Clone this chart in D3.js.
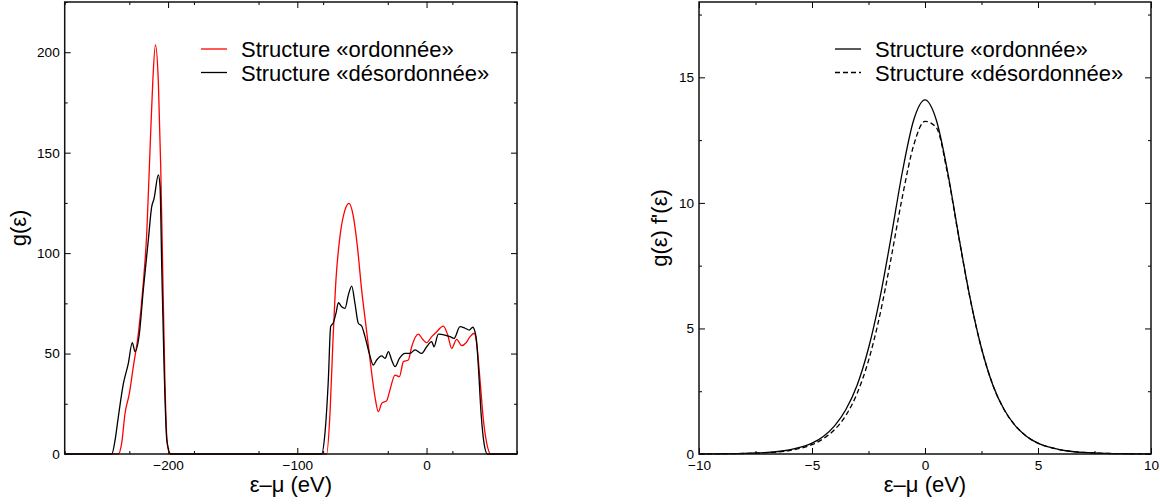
<!DOCTYPE html>
<html><head><meta charset="utf-8">
<script src="https://cdn.jsdelivr.net/npm/d3@7"></script>
<style>
body{margin:0;background:#fff;}
svg{display:block;font-family:"Liberation Sans",Arial,Helvetica,sans-serif;}
</style></head>
<body><svg id="c" width="1160" height="504"></svg>
<script>
// ---- Left panel: density of states g(ε) ----
const ordE = [-280,-240,-238.5,-235.9,-233.3,-230,-226.9,-223,-219.2,-216.5,-214,-211.9,-209.8,-207.5,-205.7,-204.2,-202.4,-200.6,-198.5,-80,-77.3,-74.7,-72.6,-70.1,-67,-63.1,-60,-56.6,-53.5,-50.2,-46.8,-43.7,-39.9,-37.3,-34.7,-30.8,-28.3,-24.4,-21.0,-17.9,-14.1,-11.5,-6.3,-3.0,0.1,4.0,7.9,13.0,16.4,19.5,23.3,27.2,30.6,33.7,36.8,38.8,41.4,44.0,46.6,49.7,70];
const ordG = [0,0,0,5.4,20.3,30,43.5,60,85,110,151,184.5,203.6,184.5,143,93,35,5,0,0,0,20.3,53.4,86.6,108.2,121.5,124.8,118.2,103.2,81.6,63.4,46.8,28.5,21.1,25.2,26.6,31.9,39.3,38.5,46,46.8,53.4,59.7,57.1,55.4,58.4,60.9,63.7,59.2,52.6,57.1,53.9,55.4,58.4,60.1,55.1,36.8,16.9,5.3,0,0];
const disE = [-280,-245,-243.6,-241,-238.5,-234.6,-230.8,-227.7,-225.6,-222.2,-219.2,-215.3,-212.7,-210.9,-207.5,-206.2,-204.9,-203.1,-201,-198,-83,-81.2,-78.6,-76,-74.2,-72.1,-70.1,-68.2,-65.7,-63.1,-60.5,-57.9,-55.4,-52.8,-50.2,-47.6,-44.3,-41.2,-38.6,-34.7,-32.1,-29.5,-27,-24.4,-21,-16.6,-12.8,-8.9,-3.7,0.1,4.0,5.8,9.1,14.3,18.2,21.3,25.9,29.8,33.1,35.7,38.3,40.1,42.2,44.5,47.1,70];
const disG = [0,0,0,7,18.5,35,45,55.4,51,60,81.6,106.5,123,127,138.9,133,93,43.5,7,0,0,0,10.3,36.8,63.4,65.4,70,75.3,73.3,72.5,79.2,83.6,75,65.1,63.7,58.4,50.1,44.3,46.8,48.8,47.6,51,46.8,43.5,47.6,50.1,50.1,51.8,50.1,53.4,55.9,53.4,59.7,59.2,58.4,57.6,63.4,62.6,61.7,63.1,58.4,43.5,20.3,5.3,0,0];
const leftXTicks = [-200,-100,0];
const leftYTicks = [0,50,100,150,200];

// ---- Right panel: g(ε) f'(ε) ----
const rE = [-10,-9.5,-9,-8.5,-8,-7.5,-7,-6.5,-6,-5.5,-5,-4.5,-4,-3.5,-3,-2.5,-2,-1.5,-1,-0.5,0,0.5,1,1.5,2,2.5,3,3.5,4,4.5,5,5.5,6,6.5,7,7.5,8,8.5,9,9.5,10];
const rOrd = [0.003,0.005,0.009,0.015,0.024,0.039,0.063,0.10,0.166,0.27,0.43,0.70,1.12,1.77,2.75,4.21,6.19,8.64,11.24,13.3,14.1,13.3,11.24,8.64,6.19,4.21,2.75,1.77,1.12,0.70,0.43,0.27,0.166,0.10,0.063,0.039,0.024,0.015,0.009,0.005,0.003];
const rDis = [0.002,0.004,0.007,0.012,0.02,0.032,0.052,0.085,0.14,0.23,0.37,0.61,0.97,1.54,2.42,3.72,5.52,7.8,10.25,12.3,13.25,13.0,11.15,8.6,6.17,4.2,2.75,1.77,1.12,0.70,0.43,0.27,0.166,0.10,0.063,0.039,0.024,0.015,0.009,0.005,0.003];
const rightXTicks = [-10,-5,0,5,10];
const rightYTicks = [0,5,10,15];

const legendLabels = ["Structure «ordonnée»","Structure «désordonnée»"];
const xTitle = "ε–μ (eV)";
const yTitleLeft = "g(ε)";
const yTitleRight = "g(ε) f'(ε)";

const svg = d3.select("#c");

function panel(opt){
  const g = svg.append("g");
  const x = d3.scaleLinear().domain(opt.xd).range([opt.x0,opt.x1]);
  const y = d3.scaleLinear().domain(opt.yd).range([opt.y1,opt.y0]);
  const style = sel => { sel.select(".domain").remove(); sel.selectAll("line").attr("stroke","#000").attr("stroke-width",1);
    sel.selectAll("text").attr("fill","#000").style("font-size","13.6px").style("font-family","'Liberation Sans',Arial,sans-serif"); };
  // minor ticks
  const mx = d3.range(opt.xd[0],opt.xd[1]+1e-9,opt.xMinor).filter(v=>!opt.xt.some(t=>Math.abs(t-v)<1e-9));
  const my = d3.range(opt.yd[0],opt.yd[1]+1e-9,opt.yMinor).filter(v=>!opt.yt.some(t=>Math.abs(t-v)<1e-9));
  g.append("g").attr("transform",`translate(0,${opt.y1})`).call(d3.axisBottom(x).tickValues(opt.xt).tickSizeInner(-6).tickSizeOuter(0).tickPadding(6)).call(style);
  g.append("g").attr("transform",`translate(0,${opt.y1})`).call(d3.axisBottom(x).tickValues(mx).tickSizeInner(-3).tickSizeOuter(0).tickFormat("")).call(style);
  g.append("g").attr("transform",`translate(0,${opt.y0})`).call(d3.axisTop(x).tickValues(opt.xt).tickSizeInner(-6).tickSizeOuter(0).tickFormat("")).call(style);
  g.append("g").attr("transform",`translate(0,${opt.y0})`).call(d3.axisTop(x).tickValues(mx).tickSizeInner(-3).tickSizeOuter(0).tickFormat("")).call(style);
  g.append("g").attr("transform",`translate(${opt.x0},0)`).call(d3.axisLeft(y).tickValues(opt.yt).tickSizeInner(-6).tickSizeOuter(0).tickPadding(5)).call(style);
  g.append("g").attr("transform",`translate(${opt.x0},0)`).call(d3.axisLeft(y).tickValues(my).tickSizeInner(-3).tickSizeOuter(0).tickFormat("")).call(style);
  g.append("g").attr("transform",`translate(${opt.x1},0)`).call(d3.axisRight(y).tickValues(opt.yt).tickSizeInner(-6).tickSizeOuter(0).tickFormat("")).call(style);
  g.append("g").attr("transform",`translate(${opt.x1},0)`).call(d3.axisRight(y).tickValues(my).tickSizeInner(-3).tickSizeOuter(0).tickFormat("")).call(style);
  // curves
  opt.series.forEach(s=>{
    const line = d3.line().x(d=>x(d[0])).y(d=>y(d[1])).curve(d3.curveMonotoneX);
    g.append("path").datum(d3.zip(s.xs,s.ys)).attr("d",line).attr("fill","none")
      .attr("stroke",s.color).attr("stroke-width",1.3).attr("stroke-dasharray",s.dash||null).attr("stroke-linejoin","round");
  });
  // frame
  g.append("rect").attr("x",opt.x0).attr("y",opt.y0).attr("width",opt.x1-opt.x0).attr("height",opt.y1-opt.y0)
    .attr("fill","none").attr("stroke","#111").attr("stroke-width",1.5);
  // titles
  g.append("text").attr("x",(opt.x0+opt.x1)/2).attr("y",492).attr("text-anchor","middle").style("font-size","22px").text(xTitle);
  g.append("text").attr("transform",`translate(${opt.ytx},${(opt.y0+opt.y1)/2}) rotate(-90)`).attr("text-anchor","middle").style("font-size","22px").text(opt.ytitle);
  // legend
  opt.series.forEach((s,i)=>{
    const ly = 49 + i*23.5;
    g.append("line").attr("x1",opt.lx).attr("x2",opt.lx+26).attr("y1",ly).attr("y2",ly)
      .attr("stroke",s.color).attr("stroke-width",1.3).attr("stroke-dasharray",s.dash||null);
    g.append("text").attr("x",opt.lx+40).attr("y",ly+8).style("font-size","22px").text(legendLabels[i]);
  });
}

panel({x0:64.7,x1:517,y0:2,y1:454,xd:[-280,70],yd:[0,225],xt:leftXTicks,yt:leftYTicks,xMinor:50,yMinor:25,
  ytx:26,ytitle:yTitleLeft,lx:201,
  series:[{xs:ordE,ys:ordG,color:"#ff0000"},{xs:disE,ys:disG,color:"#000"}]});
panel({x0:699,x1:1151,y0:2,y1:454,xd:[-10,10],yd:[0,18],xt:rightXTicks,yt:rightYTicks,xMinor:2.5,yMinor:2.5,
  ytx:667,ytitle:yTitleRight,lx:835,
  series:[{xs:rE,ys:rOrd,color:"#000"},{xs:rE,ys:rDis,color:"#000",dash:"5,3"}]});
</script></body></html>
